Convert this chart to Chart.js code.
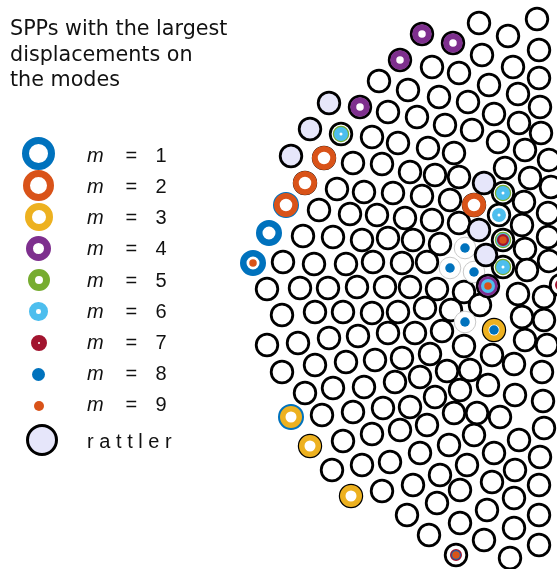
<!DOCTYPE html>
<html lang="en">
<head>
<meta charset="UTF-8">
<title>SPPs with the largest displacements on the modes</title>
<script src="https://cdn.jsdelivr.net/npm/chart.js"></script>
<style>
  body { margin: 0; background: #fff; }
  #wrap { position: relative; width: 557px; height: 569px; overflow: hidden; }
  #packing { position: absolute; left: 0; top: 0; }
  .title {
    position: absolute; left: 10px; top: 16px;
    font-family: "DejaVu Sans", sans-serif; font-size: 20.7px; line-height: 25.5px;
    color: #111; white-space: pre;
  }
  .key { position: absolute; font-family: "Liberation Sans", Arial, sans-serif; font-size: 20px; line-height: 20px; color: #111; white-space: pre; }
  .swatch { position: absolute; box-sizing: border-box; border-radius: 50%; }
</style>
</head>
<body>
<div id="wrap">
  <canvas id="packing" width="557" height="569"></canvas>
  <div class="title" id="title"></div>
</div>

<script>
// particle centres (plain white particles)
const particles = [
  [479,23],[508,36],[537,19],[432,67],[459,73],[482,55],[513,67],[539,50],[539,78],
  [379,81],[408,90],[439,97],[468,102],[489,85],[518,94],[540,107],
  [388,112],[417,117],[445,125],[472,130],[494,114],[519,123],[541,133],[372,137],
  [398,143],[428,148],[454,153],[498,142],[525,150],[549,160],
  [353,163],[382,164],[410,172],[435,175],[459,177],[505,168],[530,178],[551,187],
  [337,189],[364,192],[393,193],[422,196],[450,200],
  [319,210],[350,214],[377,215],[405,218],[432,220],[459,223],[524,202],[548,213],[522,225],
  [303,236],[333,237],[362,240],[388,238],[413,240],[440,244],[525,249],[548,237],
  [283,262],[314,264],[346,264],[373,262],[402,263],[427,262],[527,270],[549,261],
  [267,289],[300,288],[328,288],[357,287],[385,287],[410,287],[437,289],[464,292],[518,294],[544,297],
  [282,315],[315,312],[343,312],[372,313],[398,312],[425,308],[451,310],[480,305],[522,317],[544,320],
  [267,345],[298,343],[329,338],[358,336],[388,333],[415,333],[442,331],[464,346],[525,340],[547,345],
  [282,372],[315,365],[346,362],[375,360],[402,358],[430,354],[492,355],[514,364],[542,372],
  [305,393],[333,388],[364,387],[395,382],[420,377],[447,371],[470,370],[488,385],
  [322,415],[353,412],[383,408],[410,407],[435,397],[460,390],[515,395],[543,401],
  [454,413],[477,413],[500,417],
  [343,441],[372,434],[400,430],[427,425],[474,435],[519,440],[544,428],
  [332,470],[362,465],[390,462],[420,453],[449,445],[494,453],[540,457],[440,475],[467,465],[515,470],
  [382,491],[413,485],[460,490],[492,482],[539,485],[437,503],[514,498],
  [407,515],[487,510],[539,515],[460,523],[514,528],[429,535],[484,540],[539,545],[510,558]
];

// rattlers
const rattlers = [[329,103],[310,129],[291,156],[484,183],[479,230],[486,255]];

// particles carrying mode markers: x, y, modes
const marked = [
  [422,34,'4'],[453,43,'4'],[400,60,'4'],[360,107,'4'],[341,134,'56'],
  [324,158,'2'],[305,183,'2'],[286,205,'12'],[269,233,'1'],[253,263,'19'],
  [503,193,'56'],[474,205,'2'],[499,215,'6'],[503,240,'5679'],[465,248,'8'],
  [450,268,'8'],[474,272,'8'],[503,267,'56'],[488,286,'469'],[465,322,'8'],
  [494,330,'38'],[291,417,'13'],[310,446,'3'],[351,496,'3'],[456,555,'789'],
  [561,285,'7']
];

const modeLabels = ['1','2','3','4','5','6','7','8','9'];
const modeColors = ['#0072BD','#D95319','#EDB120','#7E2F8E','#77AC30','#4DBEEE','#A2142F','#0072BD','#D95319'];
const plotOuter = [26, 24, 22, 19.5, 16.5, 14, 12, 9.5, 7.5];
const plotInner = [13, 12.5, 11, 7.5, 5, 3, 1.5, 0, 0];
const keyOuter = [33, 31, 28, 25, 22, 18.5, 16, 13, 10];
const keyInner = [18, 17, 14, 10, 7, 4, 2, 0, 0];
const titleLines = ['SPPs with the largest', 'displacements on', 'the modes'];

const toPts = list => list.map(p => ({ x: p[0], y: p[1] }));
const ring = (outer, inner) => inner > 0
  ? { r: (outer + inner) / 4, w: (outer - inner) / 2 }
  : { r: outer / 2, w: 0 };

const allParticles = particles.concat(marked.map(p => [p[0], p[1], p[2]]));

const datasets = [
  {
    label: 'particles',
    data: toPts(allParticles),
    pointRadius: 10.8,
    pointBorderWidth: allParticles.map(p => p[2] === '8' ? 1 : 2.8),
    pointBorderColor: allParticles.map(p => p[2] === '8' ? '#c8c8c8' : '#000'),
    pointBackgroundColor: '#fff',
    order: 20
  },
  {
    label: 'rattler',
    data: toPts(rattlers),
    pointRadius: 10.8,
    pointBorderWidth: 2.8,
    pointBorderColor: '#000',
    pointBackgroundColor: '#e6e6fa',
    order: 19
  }
];

modeLabels.forEach((m, i) => {
  const rg = ring(plotOuter[i], plotInner[i]);
  datasets.push({
    label: 'm = ' + m,
    data: toPts(marked.filter(p => p[2].includes(m))),
    pointRadius: rg.r,
    pointBorderWidth: rg.w,
    pointBorderColor: modeColors[i],
    pointBackgroundColor: rg.w > 0 ? '#fff' : modeColors[i],
    order: 9 - i
  });
});

new Chart(document.getElementById('packing'), {
  type: 'scatter',
  data: { datasets: datasets },
  options: {
    responsive: false,
    animation: false,
    events: [],
    layout: { padding: 0, autoPadding: false },
    plugins: { legend: { display: false }, tooltip: { enabled: false } },
    elements: { point: { pointStyle: 'circle', hoverRadius: 0 } },
    scales: {
      x: { type: 'linear', min: 0, max: 557, display: false },
      y: { type: 'linear', min: 0, max: 569, reverse: true, display: false }
    }
  }
});

// title and key
document.getElementById('title').textContent = titleLines.join('\n');
const wrap = document.getElementById('wrap');

function addSwatch(cx, cy, size, border, color, fill) {
  const d = document.createElement('div');
  d.className = 'swatch';
  d.style.left = (cx - size / 2) + 'px';
  d.style.top = (cy - size / 2) + 'px';
  d.style.width = size + 'px';
  d.style.height = size + 'px';
  d.style.border = border + 'px solid ' + color;
  d.style.background = fill;
  wrap.appendChild(d);
}
function addText(txt, left, baseline, extra) {
  const s = document.createElement('div');
  s.className = 'key';
  s.textContent = txt;
  s.style.left = left + 'px';
  s.style.top = (baseline - 16.9) + 'px';
  if (extra) Object.assign(s.style, extra);
  wrap.appendChild(s);
}

modeLabels.forEach((m, i) => {
  const cy = 153.5 + i * 31.6;
  const base = 161.7 + i * 31.2;
  const outer = keyOuter[i], inner = keyInner[i];
  if (inner > 0) addSwatch(38.5, cy, outer, (outer - inner) / 2, modeColors[i], '#fff');
  else addSwatch(38.5, cy, outer, 0, modeColors[i], modeColors[i]);
  addText('m', 87, base, { fontStyle: 'italic' });
  addText('=', 125.5, base);
  addText(m, 155.5, base);
});
addSwatch(41.7, 440, 32, 3.3, '#000', '#e6e6fa');
addText('rattler', 87, 448.3, { letterSpacing: '5.6px' });
</script>
</body>
</html>
